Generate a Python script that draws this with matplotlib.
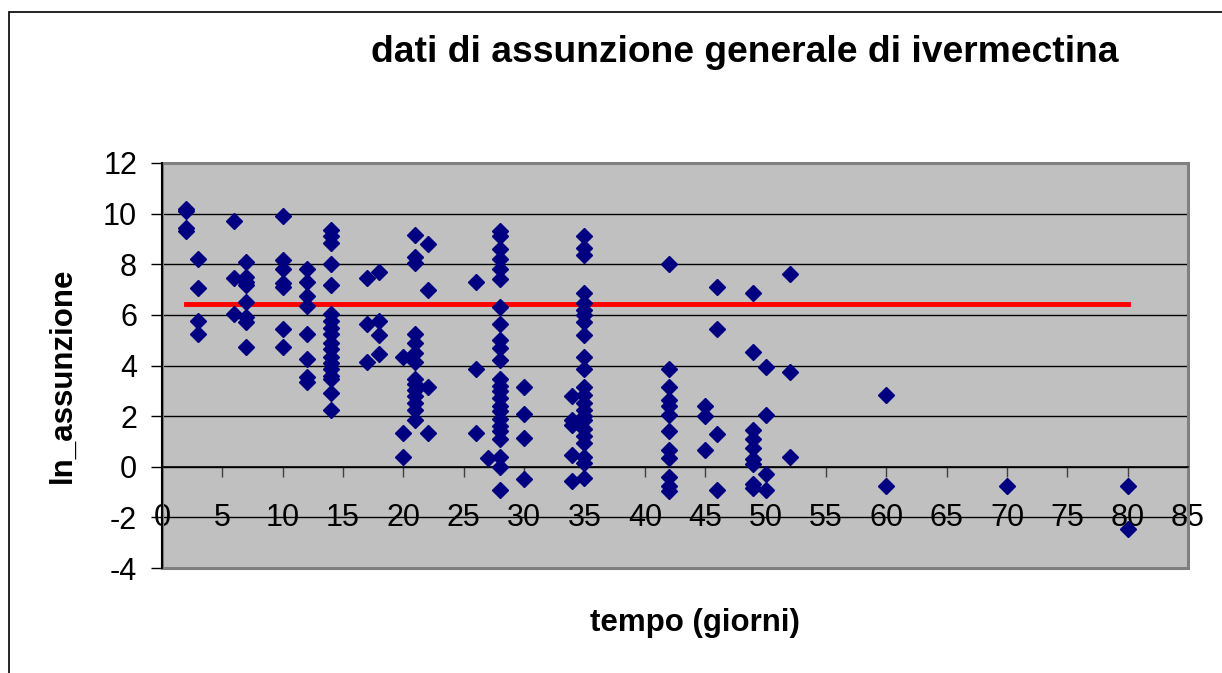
import matplotlib.pyplot as plt
from matplotlib.patches import Rectangle
import numpy as np

plt.rcParams['font.family'] = ['Liberation Sans', 'DejaVu Sans']
plt.rcParams['axes.unicode_minus'] = False

# giorni di campionamento e valori ln(assunzione)
giorni = [2, 3, 6, 7, 10, 12, 14, 17, 18, 20, 21, 22, 26, 27, 28, 30, 34, 35,
          42, 45, 46, 49, 50, 52, 60, 70, 80]
valori = [
    [10.2, 10.1, 9.45, 9.3],                                   # 2
    [8.2, 7.05, 5.75, 5.25],                                   # 3
    [9.7, 7.45, 6.05],                                         # 6
    [8.1, 7.5, 7.3, 7.2, 6.5, 5.9, 5.7, 4.75],                 # 7
    [9.9, 8.15, 7.8, 7.25, 7.1, 5.45, 4.75],                   # 10
    [7.8, 7.3, 6.75, 6.35, 5.25, 4.25, 3.55, 3.35],            # 12
    [9.35, 9.1, 8.85, 8.0, 7.2, 6.05, 5.75, 5.5, 5.25, 4.9,
     4.65, 4.35, 4.1, 3.85, 3.6, 3.45, 2.9, 2.25],             # 14
    [7.45, 5.65, 4.15],                                        # 17
    [7.7, 5.75, 5.2, 4.45],                                    # 18
    [4.35, 1.35, 0.4],                                         # 20
    [9.15, 8.3, 8.05, 5.25, 4.9, 4.5, 4.15, 3.45, 3.25, 3.05,
     2.8, 2.5, 2.25, 1.85],                                    # 21
    [8.8, 7.0, 3.15, 1.35],                                    # 22
    [7.3, 3.85, 1.35],                                         # 26
    [0.35],                                                    # 27
    [9.3, 9.1, 8.6, 8.2, 7.8, 7.4, 6.3, 5.65, 5.0, 4.7, 4.2,
     3.45, 3.2, 3.0, 2.7, 2.4, 2.2, 1.9, 1.6, 1.4, 1.1, 0.4,
     0.0, -0.9],                                               # 28
    [3.15, 2.1, 1.15, -0.5],                                   # 30
    [2.8, 1.85, 1.65, 0.45, -0.55],                            # 34
    [9.1, 8.65, 8.35, 6.85, 6.45, 6.2, 6.0, 5.7, 5.2, 4.35,
     3.85, 3.15, 2.85, 2.5, 2.25, 2.0, 1.85, 1.5, 1.2, 0.95,
     0.4, 0.15, -0.45],                                        # 35
    [8.0, 3.85, 3.15, 2.65, 2.4, 2.05, 1.4, 0.65, 0.35, -0.4,
     -0.75, -0.95],                                            # 42
    [2.4, 2.0, 0.65],                                          # 45
    [7.1, 5.45, 1.3, -0.9],                                    # 46
    [6.85, 4.55, 1.45, 1.1, 0.75, 0.3, 0.1, -0.7, -0.85],      # 49
    [3.95, 2.05, -0.3, -0.9],                                  # 50
    [7.6, 3.75, 0.4],                                          # 52
    [2.85, -0.75],                                             # 60
    [-0.75],                                                   # 70
    [-0.75, -2.45],                                            # 80
]

# linea di riferimento (media)
linea_x = [2, 80]
linea_y = [6.43, 6.43]

x = np.concatenate([[g] * len(v) for g, v in zip(giorni, valori)])
y = np.concatenate(valori)

fig = plt.figure(figsize=(12.22, 6.73), dpi=100)
ax = fig.add_axes([162 / 1222, 105 / 673, 1026 / 1222, 405 / 673])
ax.set_facecolor('#C0C0C0')

ax.set_xlim(0, 85)
ax.set_ylim(-4, 12)
ax.set_xticks(np.arange(0, 86, 5))
ax.set_yticks(np.arange(-4, 13, 2))

ax.yaxis.grid(True, color='black', lw=1)
ax.set_axisbelow(True)

ax.plot(linea_x, linea_y, color='#FF0000', lw=3.5, zorder=2)
ax.plot(x, y, linestyle='none', marker='D', markersize=8.5,
        color='#000080', markeredgecolor='#000080', zorder=3)

# assi in stile Excel
for s in ['top', 'right']:
    ax.spines[s].set_visible(False)
ax.spines['bottom'].set_position(('data', 0))
ax.spines['bottom'].set_color('black')
ax.spines['bottom'].set_linewidth(1.2)
ax.spines['left'].set_color('black')
ax.spines['left'].set_linewidth(1.5)
ax.spines['left'].set_zorder(4)
ax.add_patch(Rectangle((0, 0), 1, 1, transform=ax.transAxes, fill=False,
                       edgecolor='#808080', lw=2.2, zorder=1, clip_on=False))

ax.tick_params(axis='x', direction='out', length=7, width=1, pad=19,
               labelsize=22, color='#404040')
ax.tick_params(axis='y', direction='out', length=8, width=1, pad=10,
               labelsize=22)

fig.text(745 / 1222, 1 - 53 / 673, 'dati di assunzione generale di ivermectina',
         ha='center', va='center', fontsize=26.8, fontweight='bold')
fig.text(695 / 1222, 1 - 623 / 673, 'tempo (giorni)',
         ha='center', va='center', fontsize=22.5, fontweight='bold')
fig.text(63 / 1222, 1 - 375 / 673, 'ln_assunzione', rotation=90,
         ha='center', va='center', fontsize=22.5, fontweight='bold')

# cornice esterna del grafico
fig.patches.append(Rectangle((9 / 1222, -0.1), 1.2, 1.1 - 12 / 673,
                             transform=fig.transFigure, fill=False,
                             edgecolor='black', lw=1.2))

fig.savefig('out.png', dpi=100)
